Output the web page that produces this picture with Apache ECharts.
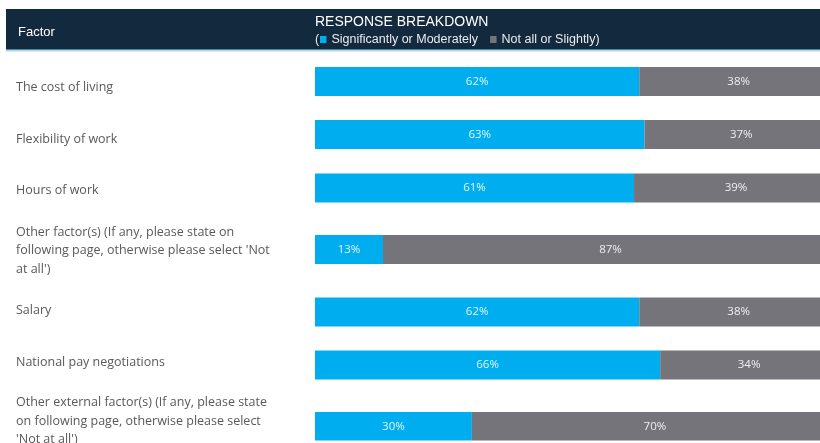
<!DOCTYPE html>
<html>
<head>
<meta charset="utf-8">
<script src="https://cdn.jsdelivr.net/npm/echarts@6/dist/echarts.min.js"></script>
<style>
  html, body { margin: 0; padding: 0; overflow: hidden; background: #fff; }
  #chart { width: 838px; height: 460px; }
</style>
</head>
<body>
<div id="chart"></div>
<script>
// factors, top to bottom
const factors = [
  'The cost of living',
  'Flexibility of work',
  'Hours of work',
  "Other factor(s) (If any, please state on\nfollowing page, otherwise please select 'Not\nat all')",
  'Salary',
  'National pay negotiations',
  "Other external factor(s) (If any, please state\non following page, otherwise please select\n'Not at all')"
]
const significant = [62, 63, 61, 13, 62, 66, 30]
const notAtAll = [38, 37, 39, 87, 38, 34, 70]
const seriesNames = ['Significantly or Moderately', 'Not all or Slightly']

// row layout (pixels): bar centre and how far the label text sits below it
const rowCenters = [81.5, 134.5, 188, 249.5, 312, 365, 426.5]
const labelShift = [6, 5, 2, 1, -2, -3, -5]
const barHeight = 29

const chart = echarts.init(document.getElementById('chart'))

const barLabel = {
  show: true,
  position: 'inside',
  formatter: '{c}%',
  color: 'rgba(255,255,255,0.88)',
  fontSize: 11.5,
  fontFamily: 'Open Sans'
}

const grids = []
const xAxes = []
const yAxes = []
const series = []

factors.forEach((name, i) => {
  const s = labelShift[i]
  grids.push({
    left: 315,
    right: 0,
    top: rowCenters[i] - barHeight / 2,
    height: barHeight
  })
  xAxes.push({
    gridIndex: i,
    type: 'value',
    min: 0,
    max: 100,
    show: false
  })
  yAxes.push({
    gridIndex: i,
    type: 'category',
    data: [name],
    axisLine: { show: false },
    axisTick: { show: false },
    splitLine: { show: false },
    axisLabel: {
      align: 'left',
      verticalAlign: 'middle',
      margin: 299,
      // an empty spacer line above or below moves the text block off centre
      formatter: (v) => {
        const body = v.split('\n').map(l => '{t|' + l + '}').join('\n')
        if (s > 0) return '{sp|}\n' + body
        if (s < 0) return body + '\n{sp|}'
        return body
      },
      rich: {
        t: {
          color: '#595959',
          fontSize: 12.5,
          lineHeight: 18.5,
          fontFamily: 'Open Sans'
        },
        sp: {
          height: Math.abs(2 * s),
          lineHeight: Math.abs(2 * s)
        }
      }
    }
  })
  series.push({
    name: seriesNames[0],
    type: 'bar',
    stack: 'total' + i,
    xAxisIndex: i,
    yAxisIndex: i,
    barWidth: barHeight,
    itemStyle: { color: '#00aeef' },
    label: barLabel,
    data: [significant[i]]
  })
  series.push({
    name: seriesNames[1],
    type: 'bar',
    stack: 'total' + i,
    xAxisIndex: i,
    yAxisIndex: i,
    barWidth: barHeight,
    itemStyle: { color: '#75747b' },
    label: barLabel,
    data: [notAtAll[i]]
  })
})

chart.setOption({
  animation: false,
  graphic: [
    {
      type: 'rect',
      shape: { x: 6, y: 9, width: 832, height: 41 },
      style: { fill: '#13293d' }
    },
    {
      type: 'rect',
      shape: { x: 6, y: 49.5, width: 832, height: 2 },
      style: { fill: '#a6dcf2' }
    },
    {
      type: 'text',
      style: {
        x: 18, y: 32, text: 'Factor', fill: '#fff',
        fontSize: 13, fontFamily: 'Liberation Sans', textVerticalAlign: 'middle'
      }
    },
    {
      type: 'text',
      style: {
        x: 315, y: 22, text: 'RESPONSE BREAKDOWN', fill: '#fff',
        fontSize: 14, fontFamily: 'Liberation Sans', textVerticalAlign: 'middle'
      }
    },
    {
      type: 'text',
      style: {
        x: 315, y: 39.5, text: '(', fill: '#e8ecf0',
        fontSize: 12.5, fontFamily: 'Liberation Sans', textVerticalAlign: 'middle'
      }
    }
  ],
  legend: {
    data: seriesNames,
    left: 320,
    top: 33,
    padding: 0,
    icon: 'rect',
    itemWidth: 6.5,
    itemHeight: 7,
    itemGap: 12,
    selectedMode: false,
    formatter: (name) => name === seriesNames[1] ? name + ')' : name,
    textStyle: {
      color: '#e8ecf0',
      fontSize: 12.5,
      fontFamily: 'Liberation Sans'
    }
  },
  grid: grids,
  xAxis: xAxes,
  yAxis: yAxes,
  series: series
})
</script>
</body>
</html>
